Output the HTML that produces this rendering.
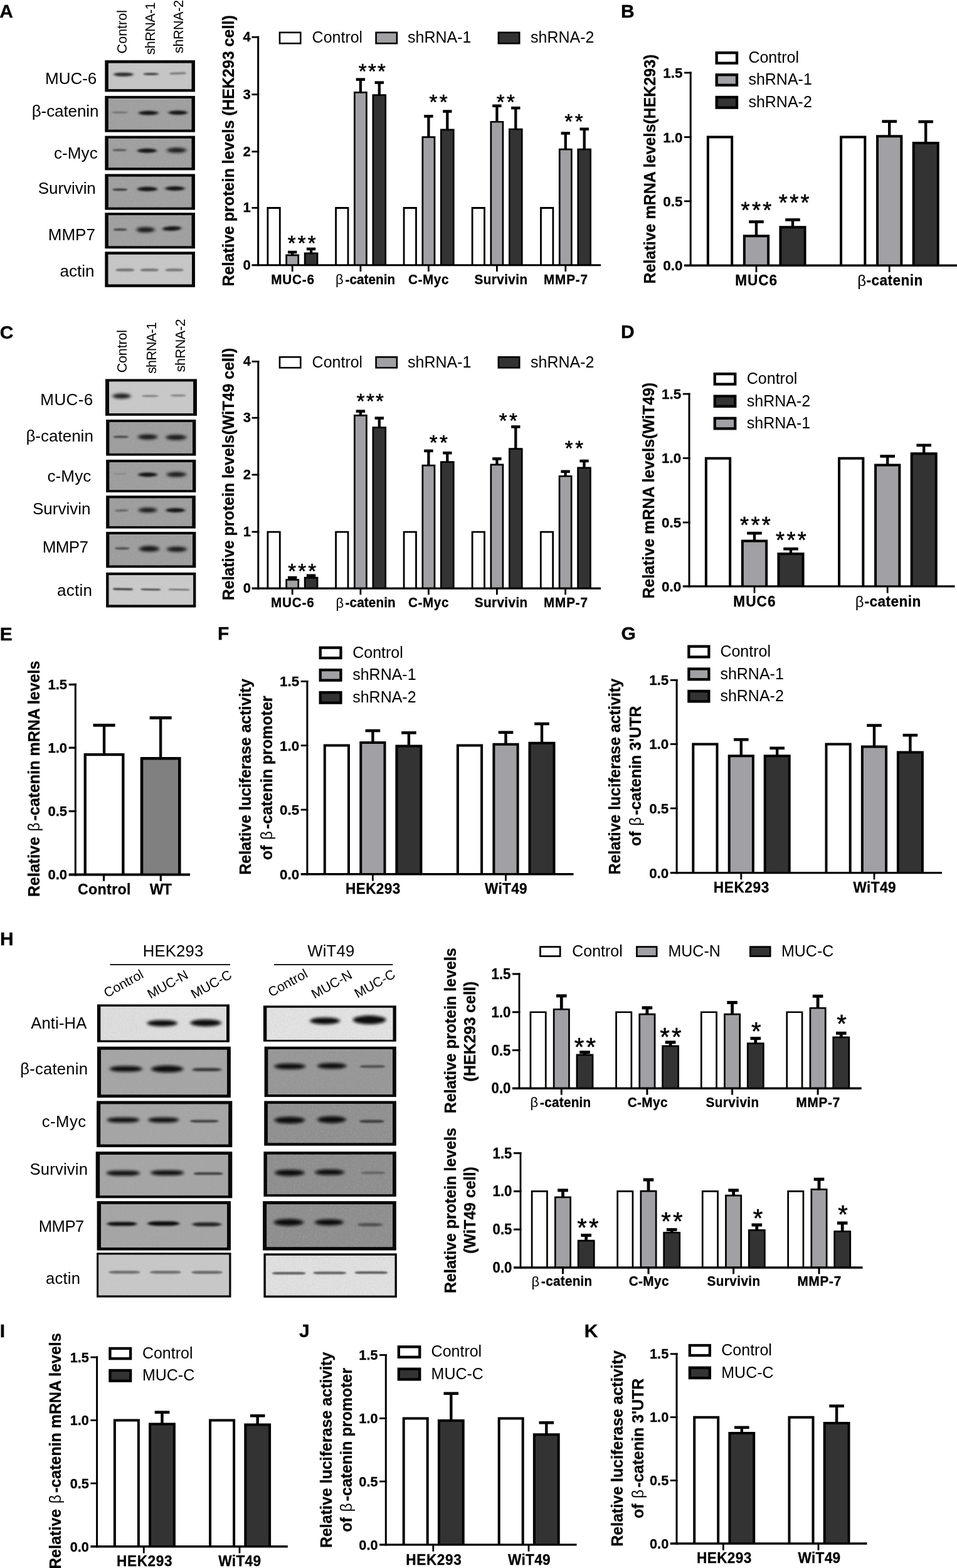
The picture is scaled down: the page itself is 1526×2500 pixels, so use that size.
<!DOCTYPE html>
<html lang="en"><head><meta charset="utf-8"><title>Figure</title>
<style>
html,body{margin:0;padding:0;background:#fff;}
body{width:1526px;height:2500px;overflow:hidden;}
svg{display:block;}
svg text{font-family:"Liberation Sans",Arial,Helvetica,sans-serif;}
</style></head><body>
<svg width="1526" height="2500" viewBox="0 0 1526 2500">
<defs>
<filter id="b1" x="-30%" y="-300%" width="160%" height="700%"><feGaussianBlur stdDeviation="1.3 0.9"/></filter>
<filter id="b2" x="-30%" y="-300%" width="160%" height="700%"><feGaussianBlur stdDeviation="2.2 1.5"/></filter>
<filter id="b3" x="-30%" y="-300%" width="160%" height="700%"><feGaussianBlur stdDeviation="2.9 2.0"/></filter>
<filter id="nz" x="0" y="0" width="100%" height="100%"><feTurbulence type="fractalNoise" baseFrequency="0.35" numOctaves="2" seed="7" result="t"/><feColorMatrix in="t" type="matrix" values="0 0 0 0 0.5  0 0 0 0 0.5  0 0 0 0 0.5  0.9 0.9 0 0 -0.78"/></filter>
</defs>
<rect x="0" y="0" width="1526" height="2500" fill="#ffffff"/>
<text font-size="30" x="-0.75" y="27.9" font-weight="bold" stroke="#000" stroke-width="0.3">A</text>
<text x="202.4" y="85.4" font-size="21.6" transform="rotate(-90 202.4 85.4)" letter-spacing="-0.03">Control</text>
<text x="246.8" y="87.3" font-size="21.6" transform="rotate(-90 246.8 87.3)" letter-spacing="-0.63">shRNA-1</text>
<text x="292.1" y="84.9" font-size="21.6" transform="rotate(-90 292.1 84.9)" letter-spacing="-0.46">shRNA-2</text>
<text font-size="26" x="71.97" y="134.3">MUC-6</text>
<text font-size="26" x="50.7" y="185.8" letter-spacing="-0.08">β-catenin</text>
<text font-size="26" x="86" y="253" letter-spacing="0.09">c-Myc</text>
<text font-size="26" x="60.82" y="309.4" letter-spacing="-0.07">Survivin</text>
<text font-size="26" x="76.77" y="382.9">MMP7</text>
<text font-size="26" x="95.5" y="440.8">actin</text>
<rect x="167.3" y="96.1" width="143.7" height="50.3" fill="#080808"/>
<svg x="172.6" y="100.4" width="133.1" height="41.8" viewBox="172.6 100.4 133.1 41.8">
<rect x="172.6" y="100.4" width="133.1" height="41.8" fill="#c6c6c6"/>
<rect x="172.6" y="100.4" width="133.1" height="41.8" filter="url(#nz)" opacity="0.45"/>
<rect x="181.5" y="115.7" width="30.9" height="6" rx="13.2" ry="3" fill="#222" opacity="0.95" filter="url(#b2)"/>
<rect x="228.1" y="116.1" width="25.3" height="3.8" rx="8.36" ry="1.9" fill="#333" opacity="0.8" filter="url(#b1)"/>
<rect x="270.1" y="115.4" width="26.8" height="3.2" rx="7.04" ry="1.6" fill="#444" opacity="0.65" filter="url(#b1)" transform="rotate(-2 283.5 117)"/>
</svg>
<rect x="167.3" y="152.9" width="143.7" height="57.8" fill="#080808"/>
<svg x="172.6" y="156.9" width="133.1" height="49.9" viewBox="172.6 156.9 133.1 49.9">
<rect x="172.6" y="156.9" width="133.1" height="49.9" fill="#9f9f9f"/>
<rect x="172.6" y="156.9" width="133.1" height="49.9" filter="url(#nz)" opacity="0.45"/>
<rect x="178.6" y="177.9" width="25.3" height="2.8" rx="6.16" ry="1.4" fill="#444" opacity="0.55" filter="url(#b1)"/>
<rect x="221" y="176.7" width="31.5" height="6.8" rx="14.96" ry="3.4" fill="#161616" opacity="1" filter="url(#b2)"/>
<rect x="268.5" y="176.3" width="30.5" height="6.6" rx="14.52" ry="3.3" fill="#161616" opacity="1" filter="url(#b2)"/>
</svg>
<rect x="167.3" y="216.6" width="143.7" height="54.8" fill="#080808"/>
<svg x="172.6" y="220.6" width="133.1" height="46.9" viewBox="172.6 220.6 133.1 46.9">
<rect x="172.6" y="220.6" width="133.1" height="46.9" fill="#9f9f9f"/>
<rect x="172.6" y="220.6" width="133.1" height="46.9" filter="url(#nz)" opacity="0.45"/>
<rect x="179.1" y="237.7" width="23.3" height="3.2" rx="7.04" ry="1.6" fill="#333" opacity="0.7" filter="url(#b1)"/>
<rect x="219" y="236.7" width="31" height="7" rx="15.4" ry="3.5" fill="#161616" opacity="1" filter="url(#b2)"/>
<rect x="265.7" y="235.8" width="31.6" height="7.6" rx="15.8" ry="3.8" fill="#161616" opacity="1" filter="url(#b3)"/>
</svg>
<rect x="167.3" y="277.4" width="143.7" height="57.2" fill="#080808"/>
<svg x="172.6" y="281.4" width="133.1" height="49.3" viewBox="172.6 281.4 133.1 49.3">
<rect x="172.6" y="281.4" width="133.1" height="49.3" fill="#9f9f9f"/>
<rect x="172.6" y="281.4" width="133.1" height="49.3" filter="url(#nz)" opacity="0.45"/>
<rect x="179.3" y="300.45" width="24" height="3.7" rx="8.14" ry="1.85" fill="#2a2a2a" opacity="0.85" filter="url(#b1)"/>
<rect x="219.2" y="297.8" width="31.5" height="7.2" rx="15.75" ry="3.6" fill="#161616" opacity="1" filter="url(#b2)"/>
<rect x="263.5" y="296.9" width="30.9" height="7.2" rx="15.45" ry="3.6" fill="#161616" opacity="1" filter="url(#b2)"/>
</svg>
<rect x="167.3" y="339.1" width="143.7" height="57.2" fill="#080808"/>
<svg x="172.6" y="343.1" width="133.1" height="49.3" viewBox="172.6 343.1 133.1 49.3">
<rect x="172.6" y="343.1" width="133.1" height="49.3" fill="#9f9f9f"/>
<rect x="172.6" y="343.1" width="133.1" height="49.3" filter="url(#nz)" opacity="0.45"/>
<rect x="180.5" y="364.15" width="22.2" height="3.7" rx="8.14" ry="1.85" fill="#2a2a2a" opacity="0.8" filter="url(#b1)"/>
<rect x="217.4" y="362.3" width="29.5" height="8" rx="14.75" ry="4" fill="#161616" opacity="1" filter="url(#b3)"/>
<rect x="259.3" y="360.8" width="29.7" height="7.2" rx="14.85" ry="3.6" fill="#161616" opacity="1" filter="url(#b2)" transform="rotate(-2.5 274.15 364.4)"/>
</svg>
<rect x="167.3" y="401.3" width="143.7" height="56.6" fill="#080808"/>
<svg x="172.3" y="405.6" width="133.7" height="48" viewBox="172.3 405.6 133.7 48">
<rect x="172.3" y="405.6" width="133.7" height="48" fill="#c7c7c7"/>
<rect x="172.3" y="405.6" width="133.7" height="48" filter="url(#nz)" opacity="0.45"/>
<rect x="184.1" y="428.3" width="30.5" height="4.2" rx="9.24" ry="2.1" fill="#666" opacity="0.9" filter="url(#b1)"/>
<rect x="223.4" y="428.3" width="29.9" height="4.2" rx="9.24" ry="2.1" fill="#6a6a6a" opacity="0.9" filter="url(#b1)"/>
<rect x="262.9" y="428.3" width="30.1" height="4.2" rx="9.24" ry="2.1" fill="#6e6e6e" opacity="0.9" filter="url(#b1)"/>
</svg>
<text font-size="25.1" font-weight="bold" stroke="#000" stroke-width="0.3" text-anchor="middle" transform="translate(373.4 240.3) rotate(-90) scale(1 1.04)">Relative protein levels (HEK293 cell)</text>
<path d="M426.9 422.8V331.5H446.3V422.8" fill="#ffffff" stroke="#000" stroke-width="2.8" stroke-linejoin="miter"/>
<line x1="466.2" y1="402.05" x2="466.2" y2="408.2" stroke="#000" stroke-width="4.3"/>
<rect x="459" y="399.8" width="14.4" height="4.5" fill="#000"/>
<path d="M456.65 422.8V406.85H475.75V422.8" fill="#a1a1a5" stroke="#000" stroke-width="2.7" stroke-linejoin="miter"/>
<line x1="496.1" y1="396.95" x2="496.1" y2="405.2" stroke="#000" stroke-width="4.3"/>
<rect x="488.9" y="394.7" width="14.4" height="4.5" fill="#000"/>
<path d="M486.15 422.8V403.85H506.05V422.8" fill="#333333" stroke="#000" stroke-width="2.7" stroke-linejoin="miter"/>
<path d="M535.6 422.8V331.5H555V422.8" fill="#ffffff" stroke="#000" stroke-width="2.8" stroke-linejoin="miter"/>
<line x1="574.9" y1="126.65" x2="574.9" y2="148.7" stroke="#000" stroke-width="4.3"/>
<rect x="567.7" y="124.4" width="14.4" height="4.5" fill="#000"/>
<path d="M565.35 422.8V147.35H584.45V422.8" fill="#a1a1a5" stroke="#000" stroke-width="2.7" stroke-linejoin="miter"/>
<line x1="604.8" y1="131.65" x2="604.8" y2="153" stroke="#000" stroke-width="4.3"/>
<rect x="597.6" y="129.4" width="14.4" height="4.5" fill="#000"/>
<path d="M594.85 422.8V151.65H614.75V422.8" fill="#333333" stroke="#000" stroke-width="2.7" stroke-linejoin="miter"/>
<path d="M644.1 422.8V331.5H663.5V422.8" fill="#ffffff" stroke="#000" stroke-width="2.8" stroke-linejoin="miter"/>
<line x1="683.4" y1="185.35" x2="683.4" y2="219.9" stroke="#000" stroke-width="4.3"/>
<rect x="676.2" y="183.1" width="14.4" height="4.5" fill="#000"/>
<path d="M673.85 422.8V218.55H692.95V422.8" fill="#a1a1a5" stroke="#000" stroke-width="2.7" stroke-linejoin="miter"/>
<line x1="713.3" y1="177.55" x2="713.3" y2="208.2" stroke="#000" stroke-width="4.3"/>
<rect x="706.1" y="175.3" width="14.4" height="4.5" fill="#000"/>
<path d="M703.35 422.8V206.85H723.25V422.8" fill="#333333" stroke="#000" stroke-width="2.7" stroke-linejoin="miter"/>
<path d="M753.1 422.8V331.5H772.5V422.8" fill="#ffffff" stroke="#000" stroke-width="2.8" stroke-linejoin="miter"/>
<line x1="792.4" y1="168.75" x2="792.4" y2="195.6" stroke="#000" stroke-width="4.3"/>
<rect x="785.2" y="166.5" width="14.4" height="4.5" fill="#000"/>
<path d="M782.85 422.8V194.25H801.95V422.8" fill="#a1a1a5" stroke="#000" stroke-width="2.7" stroke-linejoin="miter"/>
<line x1="822.3" y1="172.15" x2="822.3" y2="207.4" stroke="#000" stroke-width="4.3"/>
<rect x="815.1" y="169.9" width="14.4" height="4.5" fill="#000"/>
<path d="M812.35 422.8V206.05H832.25V422.8" fill="#333333" stroke="#000" stroke-width="2.7" stroke-linejoin="miter"/>
<path d="M862.5 422.8V331.5H881.9V422.8" fill="#ffffff" stroke="#000" stroke-width="2.8" stroke-linejoin="miter"/>
<line x1="901.8" y1="212.45" x2="901.8" y2="239.4" stroke="#000" stroke-width="4.3"/>
<rect x="894.6" y="210.2" width="14.4" height="4.5" fill="#000"/>
<path d="M892.25 422.8V238.05H911.35V422.8" fill="#a1a1a5" stroke="#000" stroke-width="2.7" stroke-linejoin="miter"/>
<line x1="931.7" y1="205.75" x2="931.7" y2="239.4" stroke="#000" stroke-width="4.3"/>
<rect x="924.5" y="203.5" width="14.4" height="4.5" fill="#000"/>
<path d="M921.75 422.8V238.05H941.65V422.8" fill="#333333" stroke="#000" stroke-width="2.7" stroke-linejoin="miter"/>
<line x1="411.65" y1="57.8" x2="411.65" y2="424.35" stroke="#000" stroke-width="3"/>
<line x1="401.45" y1="422.8" x2="958.1" y2="422.8" stroke="#000" stroke-width="3.1"/>
<line x1="401.45" y1="59.2" x2="413.15" y2="59.2" stroke="#000" stroke-width="2.8"/>
<text font-size="22" transform="translate(399.75 66.24) scale(1 1.04)" font-weight="bold" stroke="#000" stroke-width="0.3" text-anchor="end">4</text>
<line x1="401.45" y1="150.6" x2="413.15" y2="150.6" stroke="#000" stroke-width="2.8"/>
<text font-size="22" transform="translate(399.75 157.64) scale(1 1.04)" font-weight="bold" stroke="#000" stroke-width="0.3" text-anchor="end">3</text>
<line x1="401.45" y1="241.7" x2="413.15" y2="241.7" stroke="#000" stroke-width="2.8"/>
<text font-size="22" transform="translate(399.75 248.74) scale(1 1.04)" font-weight="bold" stroke="#000" stroke-width="0.3" text-anchor="end">2</text>
<line x1="401.45" y1="331.4" x2="413.15" y2="331.4" stroke="#000" stroke-width="2.8"/>
<text font-size="22" transform="translate(399.75 338.44) scale(1 1.04)" font-weight="bold" stroke="#000" stroke-width="0.3" text-anchor="end">1</text>
<text font-size="22" transform="translate(399.75 429.84) scale(1 1.04)" font-weight="bold" stroke="#000" stroke-width="0.3" text-anchor="end">0</text>
<line x1="466.2" y1="422.8" x2="466.2" y2="432.95" stroke="#000" stroke-width="2.8"/>
<line x1="574.9" y1="422.8" x2="574.9" y2="432.95" stroke="#000" stroke-width="2.8"/>
<line x1="683.4" y1="422.8" x2="683.4" y2="432.95" stroke="#000" stroke-width="2.8"/>
<line x1="792.4" y1="422.8" x2="792.4" y2="432.95" stroke="#000" stroke-width="2.8"/>
<line x1="901.8" y1="422.8" x2="901.8" y2="432.95" stroke="#000" stroke-width="2.8"/>
<text font-size="20.7" transform="translate(432.22 452.6) scale(1 1.04)" font-weight="bold" stroke="#000" stroke-width="0.3" letter-spacing="0.82">MUC-6</text>
<text font-size="22" x="534.88" y="453.2">β</text>
<text font-size="20.7" transform="translate(550.49 452.6) scale(1 1.04)" font-weight="bold" stroke="#000" stroke-width="0.3" letter-spacing="0.05">-catenin</text>
<text font-size="20.7" transform="translate(650.95 452.6) scale(1 1.04)" font-weight="bold" stroke="#000" stroke-width="0.3" letter-spacing="0.59">C-Myc</text>
<text font-size="20.7" transform="translate(756.4 452.6) scale(1 1.04)" font-weight="bold" stroke="#000" stroke-width="0.3" letter-spacing="0.44">Survivin</text>
<text font-size="20.7" transform="translate(867.02 452.6) scale(1 1.04)" font-weight="bold" stroke="#000" stroke-width="0.3" letter-spacing="0.82">MMP-7</text>
<rect x="446" y="51.8" width="33.3" height="17.4" fill="#ffffff" stroke="#000" stroke-width="2.6"/>
<text font-size="25" transform="translate(497.6 68.42) scale(1 1.04)">Control</text>
<rect x="576.6" y="46" width="4" height="28" fill="#fff"/>
<rect x="599.6" y="51.8" width="33.3" height="17.4" fill="#a1a1a5" stroke="#000" stroke-width="2.6"/>
<text font-size="25" transform="translate(650 68.42) scale(1 1.04)">shRNA-1</text>
<rect x="794.9" y="51.8" width="33.3" height="17.4" fill="#333333" stroke="#000" stroke-width="2.6"/>
<text font-size="25" transform="translate(846 68.42) scale(1 1.04)">shRNA-2</text>
<text x="458.77" y="398.9" font-size="33" stroke="#000" stroke-width="0.6" letter-spacing="3.16">***</text>
<text x="571.87" y="124.6" font-size="33" stroke="#000" stroke-width="0.6" letter-spacing="2.26">***</text>
<text x="684.57" y="174" font-size="33" stroke="#000" stroke-width="0.6" letter-spacing="3.45">**</text>
<text x="791.67" y="174.1" font-size="33" stroke="#000" stroke-width="0.6" letter-spacing="3.55">**</text>
<text x="900.27" y="205.1" font-size="33" stroke="#000" stroke-width="0.6" letter-spacing="3.55">**</text>
<text font-size="30" x="990" y="28" font-weight="bold" stroke="#000" stroke-width="0.3">B</text>
<text font-size="25" font-weight="bold" stroke="#000" stroke-width="0.3" text-anchor="middle" transform="translate(1044.6 269.5) rotate(-90) scale(1 1.04)">Relative mRNA levels(HEK293)</text>
<path d="M1128.85 423.3V218.6H1167.15V423.3" fill="#ffffff" stroke="#000" stroke-width="4" stroke-linejoin="miter"/>
<line x1="1206" y1="353.6" x2="1206" y2="378.3" stroke="#000" stroke-width="4.4"/>
<rect x="1194.2" y="351.3" width="23.6" height="4.6" fill="#000"/>
<path d="M1186.85 423.3V376.3H1225.15V423.3" fill="#a1a1a5" stroke="#000" stroke-width="4" stroke-linejoin="miter"/>
<line x1="1264" y1="350.4" x2="1264" y2="364.3" stroke="#000" stroke-width="4.4"/>
<rect x="1252.2" y="348.1" width="23.6" height="4.6" fill="#000"/>
<path d="M1244.45 423.3V362.3H1283.55V423.3" fill="#333333" stroke="#000" stroke-width="4" stroke-linejoin="miter"/>
<path d="M1341.05 423.3V218.6H1379.35V423.3" fill="#ffffff" stroke="#000" stroke-width="4" stroke-linejoin="miter"/>
<line x1="1418.2" y1="193.6" x2="1418.2" y2="219.2" stroke="#000" stroke-width="4.4"/>
<rect x="1406.4" y="191.3" width="23.6" height="4.6" fill="#000"/>
<path d="M1399.05 423.3V217.2H1437.35V423.3" fill="#a1a1a5" stroke="#000" stroke-width="4" stroke-linejoin="miter"/>
<line x1="1476.2" y1="194" x2="1476.2" y2="230.1" stroke="#000" stroke-width="4.4"/>
<rect x="1464.4" y="191.7" width="23.6" height="4.6" fill="#000"/>
<path d="M1456.65 423.3V228.1H1495.75V423.3" fill="#333333" stroke="#000" stroke-width="4" stroke-linejoin="miter"/>
<line x1="1101.2" y1="114.6" x2="1101.2" y2="425" stroke="#000" stroke-width="3"/>
<line x1="1091" y1="423.3" x2="1530" y2="423.3" stroke="#000" stroke-width="3.4"/>
<line x1="1091" y1="116" x2="1102.7" y2="116" stroke="#000" stroke-width="2.8"/>
<text font-size="22.4" transform="translate(1088.4 123.93) scale(1 1.02)" font-weight="bold" stroke="#000" stroke-width="0.3" text-anchor="end">1.5</text>
<line x1="1091" y1="218.6" x2="1102.7" y2="218.6" stroke="#000" stroke-width="2.8"/>
<text font-size="22.4" transform="translate(1088.4 226.53) scale(1 1.02)" font-weight="bold" stroke="#000" stroke-width="0.3" text-anchor="end">1.0</text>
<line x1="1091" y1="320.8" x2="1102.7" y2="320.8" stroke="#000" stroke-width="2.8"/>
<text font-size="22.4" transform="translate(1088.4 328.73) scale(1 1.02)" font-weight="bold" stroke="#000" stroke-width="0.3" text-anchor="end">0.5</text>
<text font-size="22.4" transform="translate(1088.4 431.23) scale(1 1.02)" font-weight="bold" stroke="#000" stroke-width="0.3" text-anchor="end">0.0</text>
<line x1="1206" y1="423.3" x2="1206" y2="434" stroke="#000" stroke-width="2.8"/>
<line x1="1418.2" y1="423.3" x2="1418.2" y2="434" stroke="#000" stroke-width="2.8"/>
<text font-size="22.6" transform="translate(1172.29 455) scale(1 1.04)" font-weight="bold" stroke="#000" stroke-width="0.3" letter-spacing="0.93">MUC6</text>
<text font-size="24" x="1367.14" y="455.6">β</text>
<text font-size="22.6" transform="translate(1381.62 455) scale(1 1.04)" font-weight="bold" stroke="#000" stroke-width="0.3" letter-spacing="0.45">-catenin</text>
<rect x="1142.65" y="84.15" width="32.4" height="16.5" fill="#ffffff" stroke="#000" stroke-width="4.3"/>
<text font-size="25" transform="translate(1193.4 100.33) scale(1 1.04)">Control</text>
<rect x="1142.65" y="119.25" width="32.4" height="16.5" fill="#a1a1a5" stroke="#000" stroke-width="4.3"/>
<text font-size="25" transform="translate(1193.4 135.43) scale(1 1.04)">shRNA-1</text>
<rect x="1142.65" y="154.95" width="32.4" height="16.7" fill="#333333" stroke="#000" stroke-width="4.3"/>
<text font-size="25" transform="translate(1193.4 171.23) scale(1 1.04)">shRNA-2</text>
<text x="1181.52" y="348.17" font-size="36" stroke="#000" stroke-width="0.6" letter-spacing="3.4">***</text>
<text x="1241.82" y="336.17" font-size="36" stroke="#000" stroke-width="0.6" letter-spacing="3.35">***</text>
<text font-size="30" x="-0.2" y="539.8" font-weight="bold" stroke="#000" stroke-width="0.3">C</text>
<text x="202.4" y="594.3" font-size="21.6" transform="rotate(-90 202.4 594.3)" letter-spacing="-0.21">Control</text>
<text x="249.3" y="595.8" font-size="21.6" transform="rotate(-90 249.3 595.8)" letter-spacing="-0.88">shRNA-1</text>
<text x="294.6" y="593.3" font-size="21.6" transform="rotate(-90 294.6 593.3)" letter-spacing="-0.46">shRNA-2</text>
<text font-size="26" x="64.37" y="646.2" letter-spacing="0.36">MUC-6</text>
<text font-size="26" x="41.4" y="703.6">β-catenin</text>
<text font-size="26" x="75.4" y="767.6" letter-spacing="0.14">c-Myc</text>
<text font-size="26" x="52.02" y="819.8">Survivin</text>
<text font-size="26" x="67.67" y="881.3" letter-spacing="-0.63">MMP7</text>
<text font-size="26" x="91" y="949.7" letter-spacing="0.27">actin</text>
<rect x="168" y="604.3" width="146" height="58.6" fill="#080808"/>
<svg x="174" y="608.2" width="134.3" height="50.8" viewBox="174 608.2 134.3 50.8">
<rect x="174" y="608.2" width="134.3" height="50.8" fill="#c9c9c9"/>
<rect x="174" y="608.2" width="134.3" height="50.8" filter="url(#nz)" opacity="0.45"/>
<rect x="179.3" y="627.5" width="29.3" height="8" rx="14.65" ry="4" fill="#1c1c1c" opacity="1" filter="url(#b3)"/>
<rect x="226" y="629.7" width="26.9" height="3.2" rx="7.04" ry="1.6" fill="#555" opacity="0.6" filter="url(#b1)"/>
<rect x="271.5" y="629" width="25.1" height="3.2" rx="7.04" ry="1.6" fill="#555" opacity="0.6" filter="url(#b1)"/>
</svg>
<rect x="169.1" y="669" width="143.3" height="57.6" fill="#080808"/>
<svg x="174.2" y="673" width="132.8" height="49.9" viewBox="174.2 673 132.8 49.9">
<rect x="174.2" y="673" width="132.8" height="49.9" fill="#9d9d9d"/>
<rect x="174.2" y="673" width="132.8" height="49.9" filter="url(#nz)" opacity="0.45"/>
<rect x="180.5" y="694.65" width="24.5" height="3.7" rx="8.14" ry="1.85" fill="#333" opacity="0.8" filter="url(#b1)"/>
<rect x="220" y="692.7" width="31.1" height="8" rx="15.55" ry="4" fill="#161616" opacity="1" filter="url(#b3)"/>
<rect x="264.3" y="693.3" width="32.9" height="8" rx="16.45" ry="4" fill="#161616" opacity="1" filter="url(#b3)"/>
</svg>
<rect x="169.1" y="732.9" width="143.3" height="52.1" fill="#080808"/>
<svg x="174.2" y="736.9" width="132.8" height="44.4" viewBox="174.2 736.9 132.8 44.4">
<rect x="174.2" y="736.9" width="132.8" height="44.4" fill="#9d9d9d"/>
<rect x="174.2" y="736.9" width="132.8" height="44.4" filter="url(#nz)" opacity="0.45"/>
<rect x="180.6" y="754.5" width="21.8" height="2.2" rx="4.84" ry="1.1" fill="#666" opacity="0.4" filter="url(#b1)"/>
<rect x="220.4" y="753.2" width="30.3" height="7.2" rx="15.15" ry="3.6" fill="#161616" opacity="1" filter="url(#b2)"/>
<rect x="265.5" y="752.85" width="31.7" height="7.5" rx="15.85" ry="3.75" fill="#161616" opacity="1" filter="url(#b3)"/>
</svg>
<rect x="169.1" y="790.2" width="142.8" height="52.4" fill="#080808"/>
<svg x="174.2" y="794.2" width="132.3" height="44.7" viewBox="174.2 794.2 132.3 44.7">
<rect x="174.2" y="794.2" width="132.3" height="44.7" fill="#9d9d9d"/>
<rect x="174.2" y="794.2" width="132.3" height="44.7" filter="url(#nz)" opacity="0.45"/>
<rect x="182.9" y="812.3" width="22.1" height="3.2" rx="7.04" ry="1.6" fill="#444" opacity="0.7" filter="url(#b1)" transform="rotate(-2 193.95 813.9)"/>
<rect x="220.6" y="809.55" width="29.9" height="7.5" rx="14.95" ry="3.75" fill="#161616" opacity="1" filter="url(#b3)"/>
<rect x="264.5" y="809.9" width="30.5" height="7.2" rx="15.25" ry="3.6" fill="#161616" opacity="1" filter="url(#b2)"/>
</svg>
<rect x="169.1" y="847.9" width="143.3" height="57.4" fill="#080808"/>
<svg x="174.2" y="851.9" width="132.8" height="49.7" viewBox="174.2 851.9 132.8 49.7">
<rect x="174.2" y="851.9" width="132.8" height="49.7" fill="#9d9d9d"/>
<rect x="174.2" y="851.9" width="132.8" height="49.7" filter="url(#nz)" opacity="0.45"/>
<rect x="182.9" y="872.45" width="23.9" height="3.7" rx="8.14" ry="1.85" fill="#333" opacity="0.75" filter="url(#b1)"/>
<rect x="221.8" y="870.6" width="32.3" height="9" rx="16.15" ry="4.5" fill="#161616" opacity="1" filter="url(#b3)"/>
<rect x="266.1" y="871.7" width="31.7" height="8" rx="15.85" ry="4" fill="#161616" opacity="1" filter="url(#b3)"/>
</svg>
<rect x="169.1" y="912.8" width="143.3" height="55.7" fill="#080808"/>
<svg x="173.3" y="917" width="134.9" height="47.5" viewBox="173.3 917 134.9 47.5">
<rect x="173.3" y="917" width="134.9" height="47.5" fill="#cbcbcb"/>
<rect x="173.3" y="917" width="134.9" height="47.5" filter="url(#nz)" opacity="0.45"/>
<rect x="179.9" y="938" width="32.3" height="2.4" rx="5.28" ry="1.2" fill="#1a1a1a" opacity="1" filter="url(#b1)" transform="rotate(1 196.05 939.2)"/>
<rect x="224.2" y="938.7" width="32.3" height="2.2" rx="4.84" ry="1.1" fill="#222" opacity="0.95" filter="url(#b1)" transform="rotate(1 240.35 939.8)"/>
<rect x="268.5" y="939.2" width="34.1" height="1.8" rx="3.96" ry="0.9" fill="#333" opacity="0.85" filter="url(#b1)" transform="rotate(1 285.55 940.1)"/>
</svg>
<text font-size="25" font-weight="bold" stroke="#000" stroke-width="0.3" text-anchor="middle" transform="translate(373.4 756) rotate(-90) scale(1 1.04)">Relative protein levels(WiT49 cell)</text>
<path d="M426.9 938.1V848.1H446.3V938.1" fill="#ffffff" stroke="#000" stroke-width="2.8" stroke-linejoin="miter"/>
<line x1="466.2" y1="920.95" x2="466.2" y2="925.7" stroke="#000" stroke-width="4.3"/>
<rect x="459" y="918.7" width="14.4" height="4.5" fill="#000"/>
<path d="M456.65 938.1V924.35H475.75V938.1" fill="#a1a1a5" stroke="#000" stroke-width="2.7" stroke-linejoin="miter"/>
<line x1="496.1" y1="917.65" x2="496.1" y2="922.4" stroke="#000" stroke-width="4.3"/>
<rect x="488.9" y="915.4" width="14.4" height="4.5" fill="#000"/>
<path d="M486.15 938.1V921.05H506.05V938.1" fill="#333333" stroke="#000" stroke-width="2.7" stroke-linejoin="miter"/>
<path d="M535.6 938.1V848.1H555V938.1" fill="#ffffff" stroke="#000" stroke-width="2.8" stroke-linejoin="miter"/>
<line x1="574.9" y1="655.65" x2="574.9" y2="663.7" stroke="#000" stroke-width="4.3"/>
<rect x="567.7" y="653.4" width="14.4" height="4.5" fill="#000"/>
<path d="M565.35 938.1V662.35H584.45V938.1" fill="#a1a1a5" stroke="#000" stroke-width="2.7" stroke-linejoin="miter"/>
<line x1="604.8" y1="666.65" x2="604.8" y2="683" stroke="#000" stroke-width="4.3"/>
<rect x="597.6" y="664.4" width="14.4" height="4.5" fill="#000"/>
<path d="M594.85 938.1V681.65H614.75V938.1" fill="#333333" stroke="#000" stroke-width="2.7" stroke-linejoin="miter"/>
<path d="M644.1 938.1V848.1H663.5V938.1" fill="#ffffff" stroke="#000" stroke-width="2.8" stroke-linejoin="miter"/>
<line x1="683.4" y1="718.85" x2="683.4" y2="743.5" stroke="#000" stroke-width="4.3"/>
<rect x="676.2" y="716.6" width="14.4" height="4.5" fill="#000"/>
<path d="M673.85 938.1V742.15H692.95V938.1" fill="#a1a1a5" stroke="#000" stroke-width="2.7" stroke-linejoin="miter"/>
<line x1="713.3" y1="722.15" x2="713.3" y2="737.9" stroke="#000" stroke-width="4.3"/>
<rect x="706.1" y="719.9" width="14.4" height="4.5" fill="#000"/>
<path d="M703.35 938.1V736.55H723.25V938.1" fill="#333333" stroke="#000" stroke-width="2.7" stroke-linejoin="miter"/>
<path d="M753.1 938.1V848.1H772.5V938.1" fill="#ffffff" stroke="#000" stroke-width="2.8" stroke-linejoin="miter"/>
<line x1="792.4" y1="731.45" x2="792.4" y2="742.2" stroke="#000" stroke-width="4.3"/>
<rect x="785.2" y="729.2" width="14.4" height="4.5" fill="#000"/>
<path d="M782.85 938.1V740.85H801.95V938.1" fill="#a1a1a5" stroke="#000" stroke-width="2.7" stroke-linejoin="miter"/>
<line x1="822.3" y1="680.45" x2="822.3" y2="716.9" stroke="#000" stroke-width="4.3"/>
<rect x="815.1" y="678.2" width="14.4" height="4.5" fill="#000"/>
<path d="M812.35 938.1V715.55H832.25V938.1" fill="#333333" stroke="#000" stroke-width="2.7" stroke-linejoin="miter"/>
<path d="M862.3 938.1V848.1H881.7V938.1" fill="#ffffff" stroke="#000" stroke-width="2.8" stroke-linejoin="miter"/>
<line x1="901.6" y1="751.75" x2="901.6" y2="760.6" stroke="#000" stroke-width="4.3"/>
<rect x="894.4" y="749.5" width="14.4" height="4.5" fill="#000"/>
<path d="M892.05 938.1V759.25H911.15V938.1" fill="#a1a1a5" stroke="#000" stroke-width="2.7" stroke-linejoin="miter"/>
<line x1="931.5" y1="734.95" x2="931.5" y2="747.3" stroke="#000" stroke-width="4.3"/>
<rect x="924.3" y="732.7" width="14.4" height="4.5" fill="#000"/>
<path d="M921.55 938.1V745.95H941.45V938.1" fill="#333333" stroke="#000" stroke-width="2.7" stroke-linejoin="miter"/>
<line x1="411.8" y1="575" x2="411.8" y2="939.65" stroke="#000" stroke-width="3"/>
<line x1="401.6" y1="938.1" x2="958.1" y2="938.1" stroke="#000" stroke-width="3.1"/>
<line x1="401.6" y1="576.4" x2="413.3" y2="576.4" stroke="#000" stroke-width="2.8"/>
<text font-size="22" transform="translate(399.9 583.44) scale(1 1.04)" font-weight="bold" stroke="#000" stroke-width="0.3" text-anchor="end">4</text>
<line x1="401.6" y1="666.2" x2="413.3" y2="666.2" stroke="#000" stroke-width="2.8"/>
<text font-size="22" transform="translate(399.9 673.24) scale(1 1.04)" font-weight="bold" stroke="#000" stroke-width="0.3" text-anchor="end">3</text>
<line x1="401.6" y1="756.9" x2="413.3" y2="756.9" stroke="#000" stroke-width="2.8"/>
<text font-size="22" transform="translate(399.9 763.94) scale(1 1.04)" font-weight="bold" stroke="#000" stroke-width="0.3" text-anchor="end">2</text>
<line x1="401.6" y1="848" x2="413.3" y2="848" stroke="#000" stroke-width="2.8"/>
<text font-size="22" transform="translate(399.9 855.04) scale(1 1.04)" font-weight="bold" stroke="#000" stroke-width="0.3" text-anchor="end">1</text>
<text font-size="22" transform="translate(399.9 945.14) scale(1 1.04)" font-weight="bold" stroke="#000" stroke-width="0.3" text-anchor="end">0</text>
<line x1="466.2" y1="938.1" x2="466.2" y2="948.25" stroke="#000" stroke-width="2.8"/>
<line x1="574.9" y1="938.1" x2="574.9" y2="948.25" stroke="#000" stroke-width="2.8"/>
<line x1="683.4" y1="938.1" x2="683.4" y2="948.25" stroke="#000" stroke-width="2.8"/>
<line x1="792.4" y1="938.1" x2="792.4" y2="948.25" stroke="#000" stroke-width="2.8"/>
<line x1="901.6" y1="938.1" x2="901.6" y2="948.25" stroke="#000" stroke-width="2.8"/>
<text font-size="20.7" transform="translate(432.02 968.1) scale(1 1.04)" font-weight="bold" stroke="#000" stroke-width="0.3" letter-spacing="0.82">MUC-6</text>
<text font-size="22" x="535.38" y="968.7">β</text>
<text font-size="20.7" transform="translate(550.49 968.1) scale(1 1.04)" font-weight="bold" stroke="#000" stroke-width="0.3" letter-spacing="0.13">-catenin</text>
<text font-size="20.7" transform="translate(650.95 968.1) scale(1 1.04)" font-weight="bold" stroke="#000" stroke-width="0.3" letter-spacing="0.59">C-Myc</text>
<text font-size="20.7" transform="translate(756.8 968.1) scale(1 1.04)" font-weight="bold" stroke="#000" stroke-width="0.3" letter-spacing="0.39">Survivin</text>
<text font-size="20.7" transform="translate(867.02 968.1) scale(1 1.04)" font-weight="bold" stroke="#000" stroke-width="0.3" letter-spacing="0.82">MMP-7</text>
<rect x="446" y="569.3" width="33.3" height="17" fill="#ffffff" stroke="#000" stroke-width="2.6"/>
<text font-size="25" transform="translate(497.6 585.72) scale(1 1.04)">Control</text>
<rect x="576.6" y="564" width="4" height="28" fill="#fff"/>
<rect x="599.6" y="569.3" width="33.3" height="17" fill="#a1a1a5" stroke="#000" stroke-width="2.6"/>
<text font-size="25" transform="translate(650 585.72) scale(1 1.04)">shRNA-1</text>
<rect x="794.9" y="569.3" width="33.3" height="17" fill="#333333" stroke="#000" stroke-width="2.6"/>
<text font-size="25" transform="translate(846 585.72) scale(1 1.04)">shRNA-2</text>
<text x="459.27" y="921.6" font-size="33" stroke="#000" stroke-width="0.6" letter-spacing="3.16">***</text>
<text x="568.87" y="650.7" font-size="33" stroke="#000" stroke-width="0.6" letter-spacing="2.26">***</text>
<text x="684.77" y="717.1" font-size="33" stroke="#000" stroke-width="0.6" letter-spacing="3.45">**</text>
<text x="795.67" y="681.6" font-size="33" stroke="#000" stroke-width="0.6" letter-spacing="3.55">**</text>
<text x="900.87" y="726.3" font-size="33" stroke="#000" stroke-width="0.6" letter-spacing="3.55">**</text>
<text font-size="30" x="990" y="539.3" font-weight="bold" stroke="#000" stroke-width="0.3">D</text>
<text font-size="25" font-weight="bold" stroke="#000" stroke-width="0.3" text-anchor="middle" transform="translate(1042.8 782.2) rotate(-90) scale(1 1.04)">Relative mRNA levels(WiT49)</text>
<path d="M1125.85 934.9V730.7H1164.15V934.9" fill="#ffffff" stroke="#000" stroke-width="4" stroke-linejoin="miter"/>
<line x1="1203" y1="850.1" x2="1203" y2="864.4" stroke="#000" stroke-width="4.4"/>
<rect x="1191.2" y="847.8" width="23.6" height="4.6" fill="#000"/>
<path d="M1183.85 934.9V862.4H1222.15V934.9" fill="#a1a1a5" stroke="#000" stroke-width="4" stroke-linejoin="miter"/>
<line x1="1261" y1="875.1" x2="1261" y2="885.1" stroke="#000" stroke-width="4.4"/>
<rect x="1249.2" y="872.8" width="23.6" height="4.6" fill="#000"/>
<path d="M1241.45 934.9V883.1H1280.55V934.9" fill="#333333" stroke="#000" stroke-width="4" stroke-linejoin="miter"/>
<path d="M1338.05 934.9V730.7H1376.35V934.9" fill="#ffffff" stroke="#000" stroke-width="4" stroke-linejoin="miter"/>
<line x1="1415.2" y1="727.4" x2="1415.2" y2="743.5" stroke="#000" stroke-width="4.4"/>
<rect x="1403.4" y="725.1" width="23.6" height="4.6" fill="#000"/>
<path d="M1396.05 934.9V741.5H1434.35V934.9" fill="#a1a1a5" stroke="#000" stroke-width="4" stroke-linejoin="miter"/>
<line x1="1473.2" y1="709.9" x2="1473.2" y2="725.3" stroke="#000" stroke-width="4.4"/>
<rect x="1461.4" y="707.6" width="23.6" height="4.6" fill="#000"/>
<path d="M1453.65 934.9V723.3H1492.75V934.9" fill="#333333" stroke="#000" stroke-width="4" stroke-linejoin="miter"/>
<line x1="1099" y1="626.7" x2="1099" y2="936.6" stroke="#000" stroke-width="3"/>
<line x1="1088.8" y1="934.9" x2="1522.5" y2="934.9" stroke="#000" stroke-width="3.4"/>
<line x1="1088.8" y1="628.1" x2="1100.5" y2="628.1" stroke="#000" stroke-width="2.8"/>
<text font-size="22.4" transform="translate(1086.2 636.03) scale(1 1.02)" font-weight="bold" stroke="#000" stroke-width="0.3" text-anchor="end">1.5</text>
<line x1="1088.8" y1="730.5" x2="1100.5" y2="730.5" stroke="#000" stroke-width="2.8"/>
<text font-size="22.4" transform="translate(1086.2 738.43) scale(1 1.02)" font-weight="bold" stroke="#000" stroke-width="0.3" text-anchor="end">1.0</text>
<line x1="1088.8" y1="833" x2="1100.5" y2="833" stroke="#000" stroke-width="2.8"/>
<text font-size="22.4" transform="translate(1086.2 840.93) scale(1 1.02)" font-weight="bold" stroke="#000" stroke-width="0.3" text-anchor="end">0.5</text>
<text font-size="22.4" transform="translate(1086.2 942.83) scale(1 1.02)" font-weight="bold" stroke="#000" stroke-width="0.3" text-anchor="end">0.0</text>
<line x1="1203" y1="934.9" x2="1203" y2="945.6" stroke="#000" stroke-width="2.8"/>
<line x1="1415.2" y1="934.9" x2="1415.2" y2="945.6" stroke="#000" stroke-width="2.8"/>
<text font-size="22.6" transform="translate(1169.29 967) scale(1 1.04)" font-weight="bold" stroke="#000" stroke-width="0.3" letter-spacing="1.1">MUC6</text>
<text font-size="24" x="1363.84" y="967.6">β</text>
<text font-size="22.6" transform="translate(1378.62 967) scale(1 1.04)" font-weight="bold" stroke="#000" stroke-width="0.3" letter-spacing="0.45">-catenin</text>
<rect x="1139.75" y="596.15" width="32.5" height="16.4" fill="#ffffff" stroke="#000" stroke-width="4.3"/>
<text font-size="25" transform="translate(1190.8 612.27) scale(1 1.04)">Control</text>
<rect x="1139.75" y="631.65" width="32.5" height="16.2" fill="#333333" stroke="#000" stroke-width="4.3"/>
<text font-size="25" transform="translate(1190.8 647.67) scale(1 1.04)">shRNA-2</text>
<rect x="1139.75" y="666.85" width="32.5" height="16.5" fill="#a1a1a5" stroke="#000" stroke-width="4.3"/>
<text font-size="25" transform="translate(1190.8 683.02) scale(1 1.04)">shRNA-1</text>
<text x="1180.02" y="849.77" font-size="36" stroke="#000" stroke-width="0.6" letter-spacing="3.4">***</text>
<text x="1237.02" y="874.47" font-size="36" stroke="#000" stroke-width="0.6" letter-spacing="3.4">***</text>
<text font-size="30" x="-0.3" y="1020.9" font-weight="bold" stroke="#000" stroke-width="0.3">E</text>
<text font-size="25" font-weight="bold" stroke="#000" stroke-width="0.3" text-anchor="middle" transform="translate(63 1241.8) rotate(-90) scale(1 1.04)">Relative <tspan dx="1.6" font-weight="normal" stroke="none" font-size="24.5">β</tspan><tspan dx="3.2">-catenin mRNA levels</tspan></text>
<line x1="166.05" y1="1156.3" x2="166.05" y2="1205.3" stroke="#000" stroke-width="4.3"/>
<rect x="148.55" y="1153.9" width="35" height="4.8" fill="#000"/>
<path d="M135.75 1394.5V1203.15H196.35V1394.5" fill="#ffffff" stroke="#000" stroke-width="4.3" stroke-linejoin="miter"/>
<line x1="256.15" y1="1144.5" x2="256.15" y2="1211.6" stroke="#000" stroke-width="4.3"/>
<rect x="238.65" y="1142.1" width="35" height="4.8" fill="#000"/>
<path d="M226 1394.5V1209.3H286.3V1394.5" fill="#808080" stroke="#000" stroke-width="4.6" stroke-linejoin="miter"/>
<line x1="120.3" y1="1089.8" x2="120.3" y2="1396.6" stroke="#000" stroke-width="3"/>
<line x1="109.7" y1="1394.5" x2="303" y2="1394.5" stroke="#000" stroke-width="4.2"/>
<line x1="109.7" y1="1091.4" x2="121.8" y2="1091.4" stroke="#000" stroke-width="3.2"/>
<text font-size="22.1" transform="translate(107.1 1099.38) scale(1 1.04)" font-weight="bold" stroke="#000" stroke-width="0.3" text-anchor="end">1.5</text>
<line x1="109.7" y1="1192.2" x2="121.8" y2="1192.2" stroke="#000" stroke-width="3.2"/>
<text font-size="22.1" transform="translate(107.1 1200.18) scale(1 1.04)" font-weight="bold" stroke="#000" stroke-width="0.3" text-anchor="end">1.0</text>
<line x1="109.7" y1="1293.4" x2="121.8" y2="1293.4" stroke="#000" stroke-width="3.2"/>
<text font-size="22.1" transform="translate(107.1 1301.38) scale(1 1.04)" font-weight="bold" stroke="#000" stroke-width="0.3" text-anchor="end">0.5</text>
<text font-size="22.1" transform="translate(107.1 1402.48) scale(1 1.04)" font-weight="bold" stroke="#000" stroke-width="0.3" text-anchor="end">0.0</text>
<line x1="165.5" y1="1394.5" x2="165.5" y2="1404.8" stroke="#000" stroke-width="3.2"/>
<line x1="256.3" y1="1394.5" x2="256.3" y2="1404.8" stroke="#000" stroke-width="3.2"/>
<text font-size="23.2" transform="translate(124.05 1425.5) scale(1 1.04)" font-weight="bold" stroke="#000" stroke-width="0.3" letter-spacing="0.32">Control</text>
<text font-size="23.2" transform="translate(238.78 1425.5) scale(1 1.04)" font-weight="bold" stroke="#000" stroke-width="0.3" letter-spacing="-0.8">WT</text>
<text font-size="30" x="347" y="1020" font-weight="bold" stroke="#000" stroke-width="0.3">F</text>
<text font-size="25" font-weight="bold" stroke="#000" stroke-width="0.3" text-anchor="middle" transform="translate(400.4 1238.5) rotate(-90) scale(1 1.04)">Relative luciferase activity</text>
<text font-size="25" font-weight="bold" stroke="#000" stroke-width="0.3" text-anchor="middle" transform="translate(433.7 1240.2) rotate(-90) scale(1 1.04)">of <tspan dx="1.6" font-weight="normal" stroke="none" font-size="24.5">β</tspan><tspan dx="3.2">-catenin promoter</tspan></text>
<path d="M517.8 1393.8V1188.6H556V1393.8" fill="#ffffff" stroke="#000" stroke-width="4" stroke-linejoin="miter"/>
<line x1="594.4" y1="1165" x2="594.4" y2="1186" stroke="#000" stroke-width="4.4"/>
<rect x="582.6" y="1162.7" width="23.6" height="4.6" fill="#000"/>
<path d="M575.3 1393.8V1184H613.5V1393.8" fill="#a1a1a5" stroke="#000" stroke-width="4" stroke-linejoin="miter"/>
<line x1="651.9" y1="1168.3" x2="651.9" y2="1191.6" stroke="#000" stroke-width="4.4"/>
<rect x="640.1" y="1166" width="23.6" height="4.6" fill="#000"/>
<path d="M632.4 1393.8V1189.6H671.4V1393.8" fill="#333333" stroke="#000" stroke-width="4" stroke-linejoin="miter"/>
<path d="M729.9 1393.8V1188.6H768.1V1393.8" fill="#ffffff" stroke="#000" stroke-width="4" stroke-linejoin="miter"/>
<line x1="806.5" y1="1167.7" x2="806.5" y2="1188.7" stroke="#000" stroke-width="4.4"/>
<rect x="794.7" y="1165.4" width="23.6" height="4.6" fill="#000"/>
<path d="M787.4 1393.8V1186.7H825.6V1393.8" fill="#a1a1a5" stroke="#000" stroke-width="4" stroke-linejoin="miter"/>
<line x1="864" y1="1154" x2="864" y2="1186.7" stroke="#000" stroke-width="4.4"/>
<rect x="852.2" y="1151.7" width="23.6" height="4.6" fill="#000"/>
<path d="M844.5 1393.8V1184.7H883.5V1393.8" fill="#333333" stroke="#000" stroke-width="4" stroke-linejoin="miter"/>
<line x1="489.9" y1="1085" x2="489.9" y2="1395.5" stroke="#000" stroke-width="3"/>
<line x1="479.7" y1="1393.8" x2="914.5" y2="1393.8" stroke="#000" stroke-width="3.4"/>
<line x1="479.7" y1="1086.4" x2="491.4" y2="1086.4" stroke="#000" stroke-width="2.8"/>
<text font-size="22.4" transform="translate(477.1 1094.33) scale(1 1.02)" font-weight="bold" stroke="#000" stroke-width="0.3" text-anchor="end">1.5</text>
<line x1="479.7" y1="1188.6" x2="491.4" y2="1188.6" stroke="#000" stroke-width="2.8"/>
<text font-size="22.4" transform="translate(477.1 1196.53) scale(1 1.02)" font-weight="bold" stroke="#000" stroke-width="0.3" text-anchor="end">1.0</text>
<line x1="479.7" y1="1291" x2="491.4" y2="1291" stroke="#000" stroke-width="2.8"/>
<text font-size="22.4" transform="translate(477.1 1298.93) scale(1 1.02)" font-weight="bold" stroke="#000" stroke-width="0.3" text-anchor="end">0.5</text>
<text font-size="22.4" transform="translate(477.1 1401.73) scale(1 1.02)" font-weight="bold" stroke="#000" stroke-width="0.3" text-anchor="end">0.0</text>
<line x1="594.4" y1="1393.8" x2="594.4" y2="1404.5" stroke="#000" stroke-width="2.8"/>
<line x1="806.5" y1="1393.8" x2="806.5" y2="1404.5" stroke="#000" stroke-width="2.8"/>
<text font-size="22.6" transform="translate(550.99 1425) scale(1 1.04)" font-weight="bold" stroke="#000" stroke-width="0.3" letter-spacing="0.38">HEK293</text>
<text font-size="22.6" transform="translate(772.98 1425) scale(1 1.04)" font-weight="bold" stroke="#000" stroke-width="0.3" letter-spacing="0.33">WiT49</text>
<rect x="510.75" y="1032.65" width="32.7" height="16.4" fill="#ffffff" stroke="#000" stroke-width="4.3"/>
<text font-size="25" transform="translate(562.2 1048.77) scale(1 1.04)">Control</text>
<rect x="510.75" y="1068.15" width="32.7" height="16.5" fill="#a1a1a5" stroke="#000" stroke-width="4.3"/>
<text font-size="25" transform="translate(562.2 1084.33) scale(1 1.04)">shRNA-1</text>
<rect x="510.75" y="1104.05" width="32.7" height="16.5" fill="#333333" stroke="#000" stroke-width="4.3"/>
<text font-size="25" transform="translate(562.2 1120.23) scale(1 1.04)">shRNA-2</text>
<text font-size="30" x="990.6" y="1020.2" font-weight="bold" stroke="#000" stroke-width="0.3">G</text>
<text font-size="25" font-weight="bold" stroke="#000" stroke-width="0.3" text-anchor="middle" transform="translate(988.5 1238.1) rotate(-90) scale(1 1.04)">Relative luciferase activity</text>
<text font-size="25" font-weight="bold" stroke="#000" stroke-width="0.3" text-anchor="middle" transform="translate(1022.4 1237.2) rotate(-90) scale(1 1.04)">of <tspan dx="1.6" font-weight="normal" stroke="none" font-size="24.5">β</tspan><tspan dx="3.2">-catenin 3'UTR</tspan></text>
<path d="M1105.3 1391.6V1186.4H1143.5V1391.6" fill="#ffffff" stroke="#000" stroke-width="4" stroke-linejoin="miter"/>
<line x1="1181.8" y1="1179.2" x2="1181.8" y2="1207.2" stroke="#000" stroke-width="4.4"/>
<rect x="1170" y="1176.9" width="23.6" height="4.6" fill="#000"/>
<path d="M1162.7 1391.6V1205.2H1200.9V1391.6" fill="#a1a1a5" stroke="#000" stroke-width="4" stroke-linejoin="miter"/>
<line x1="1239.2" y1="1192.8" x2="1239.2" y2="1207.2" stroke="#000" stroke-width="4.4"/>
<rect x="1227.4" y="1190.5" width="23.6" height="4.6" fill="#000"/>
<path d="M1219.7 1391.6V1205.2H1258.7V1391.6" fill="#333333" stroke="#000" stroke-width="4" stroke-linejoin="miter"/>
<path d="M1317.5 1391.6V1186.4H1355.7V1391.6" fill="#ffffff" stroke="#000" stroke-width="4" stroke-linejoin="miter"/>
<line x1="1394" y1="1156.6" x2="1394" y2="1192.4" stroke="#000" stroke-width="4.4"/>
<rect x="1382.2" y="1154.3" width="23.6" height="4.6" fill="#000"/>
<path d="M1374.9 1391.6V1190.4H1413.1V1391.6" fill="#a1a1a5" stroke="#000" stroke-width="4" stroke-linejoin="miter"/>
<line x1="1451.4" y1="1172.2" x2="1451.4" y2="1201.4" stroke="#000" stroke-width="4.4"/>
<rect x="1439.6" y="1169.9" width="23.6" height="4.6" fill="#000"/>
<path d="M1431.9 1391.6V1199.4H1470.9V1391.6" fill="#333333" stroke="#000" stroke-width="4" stroke-linejoin="miter"/>
<line x1="1079.1" y1="1083" x2="1079.1" y2="1393.3" stroke="#000" stroke-width="3"/>
<line x1="1068.9" y1="1391.6" x2="1502" y2="1391.6" stroke="#000" stroke-width="3.4"/>
<line x1="1068.9" y1="1084.4" x2="1080.6" y2="1084.4" stroke="#000" stroke-width="2.8"/>
<text font-size="22.4" transform="translate(1066.3 1092.33) scale(1 1.02)" font-weight="bold" stroke="#000" stroke-width="0.3" text-anchor="end">1.5</text>
<line x1="1068.9" y1="1186.4" x2="1080.6" y2="1186.4" stroke="#000" stroke-width="2.8"/>
<text font-size="22.4" transform="translate(1066.3 1194.33) scale(1 1.02)" font-weight="bold" stroke="#000" stroke-width="0.3" text-anchor="end">1.0</text>
<line x1="1068.9" y1="1288.8" x2="1080.6" y2="1288.8" stroke="#000" stroke-width="2.8"/>
<text font-size="22.4" transform="translate(1066.3 1296.73) scale(1 1.02)" font-weight="bold" stroke="#000" stroke-width="0.3" text-anchor="end">0.5</text>
<text font-size="22.4" transform="translate(1066.3 1399.53) scale(1 1.02)" font-weight="bold" stroke="#000" stroke-width="0.3" text-anchor="end">0.0</text>
<line x1="1181.8" y1="1391.6" x2="1181.8" y2="1402.3" stroke="#000" stroke-width="2.8"/>
<line x1="1394" y1="1391.6" x2="1394" y2="1402.3" stroke="#000" stroke-width="2.8"/>
<text font-size="22.6" transform="translate(1137.79 1423) scale(1 1.04)" font-weight="bold" stroke="#000" stroke-width="0.3" letter-spacing="0.62">HEK293</text>
<text font-size="22.6" transform="translate(1360.48 1423) scale(1 1.04)" font-weight="bold" stroke="#000" stroke-width="0.3" letter-spacing="0.45">WiT49</text>
<rect x="1098.35" y="1030.65" width="32" height="16.8" fill="#ffffff" stroke="#000" stroke-width="4.3"/>
<text font-size="25" transform="translate(1148.4 1046.97) scale(1 1.04)">Control</text>
<rect x="1098.35" y="1066.45" width="32" height="16.8" fill="#a1a1a5" stroke="#000" stroke-width="4.3"/>
<text font-size="25" transform="translate(1148.4 1082.77) scale(1 1.04)">shRNA-1</text>
<rect x="1098.35" y="1101.95" width="32" height="16.4" fill="#333333" stroke="#000" stroke-width="4.3"/>
<text font-size="25" transform="translate(1148.4 1118.08) scale(1 1.04)">shRNA-2</text>
<text font-size="30" x="0" y="1506.7" font-weight="bold" stroke="#000" stroke-width="0.3">H</text>
<text font-size="25.7" x="227.79" y="1524.8" letter-spacing="0.16">HEK293</text>
<text font-size="25.7" x="490.19" y="1524.8" letter-spacing="0.24">WiT49</text>
<line x1="175.5" y1="1537.9" x2="367" y2="1537.9" stroke="#1a1a1a" stroke-width="2"/>
<line x1="437" y1="1537.9" x2="626.4" y2="1537.9" stroke="#1a1a1a" stroke-width="2"/>
<text font-size="21.2" transform="translate(170.6 1591) rotate(-29)">Control</text>
<text font-size="21.2" transform="translate(240 1592.8) rotate(-29)">MUC-N</text>
<text font-size="21.2" transform="translate(309.5 1592.8) rotate(-29)">MUC-C</text>
<text font-size="21.2" transform="translate(432.4 1590) rotate(-29)">Control</text>
<text font-size="21.2" transform="translate(501.5 1592.8) rotate(-29)">MUC-N</text>
<text font-size="21.2" transform="translate(570.2 1591.8) rotate(-29)">MUC-C</text>
<text font-size="25.6" x="49.15" y="1639.7" letter-spacing="0.17">Anti-HA</text>
<text font-size="25.6" x="32.23" y="1713.4" letter-spacing="0.24">β-catenin</text>
<text font-size="25.6" x="66.71" y="1797.1" letter-spacing="0.53">c-Myc</text>
<text font-size="25.6" x="47.54" y="1872.9" letter-spacing="0.2">Survivin</text>
<text font-size="25.6" x="61.7" y="1964.1" letter-spacing="-0.46">MMP7</text>
<text font-size="25.6" x="72.91" y="2047.1" letter-spacing="0.24">actin</text>
<rect x="154.9" y="1601.4" width="211.1" height="60.3" fill="#080808"/>
<svg x="160.2" y="1604.6" width="201" height="54.1" viewBox="160.2 1604.6 201 54.1">
<rect x="160.2" y="1604.6" width="201" height="54.1" fill="#dedede"/>
<rect x="160.2" y="1604.6" width="201" height="54.1" filter="url(#nz)" opacity="0.45"/>
<rect x="234.8" y="1626.4" width="47.8" height="10" rx="22" ry="5" fill="#101010" opacity="1" filter="url(#b3)"/>
<rect x="303.4" y="1625.4" width="49.4" height="11" rx="24.2" ry="5.5" fill="#0a0a0a" opacity="1" filter="url(#b3)"/>
</svg>
<rect x="154.9" y="1668.7" width="213" height="81.4" fill="#080808"/>
<svg x="160.9" y="1673.5" width="201.1" height="72" viewBox="160.9 1673.5 201.1 72">
<rect x="160.9" y="1673.5" width="201.1" height="72" fill="#a4a4a4"/>
<rect x="160.9" y="1673.5" width="201.1" height="72" filter="url(#nz)" opacity="0.45"/>
<rect x="174.9" y="1699.8" width="51.9" height="9" rx="19.8" ry="4.5" fill="#101010" opacity="1" filter="url(#b3)"/>
<rect x="241.1" y="1698.8" width="51.1" height="11" rx="24.2" ry="5.5" fill="#101010" opacity="1" filter="url(#b3)"/>
<rect x="306.4" y="1702.8" width="46.6" height="5.2" rx="11.44" ry="2.6" fill="#222" opacity="0.85" filter="url(#b2)"/>
</svg>
<rect x="154.1" y="1755.4" width="216.2" height="73.7" fill="#080808"/>
<svg x="160.1" y="1760.2" width="204.3" height="64.5" viewBox="160.1 1760.2 204.3 64.5">
<rect x="160.1" y="1760.2" width="204.3" height="64.5" fill="#a4a4a4"/>
<rect x="160.1" y="1760.2" width="204.3" height="64.5" filter="url(#nz)" opacity="0.45"/>
<rect x="170.9" y="1781.7" width="51.1" height="8" rx="17.6" ry="4" fill="#101010" opacity="1" filter="url(#b3)"/>
<rect x="236.4" y="1781.7" width="48.6" height="8" rx="17.6" ry="4" fill="#101010" opacity="1" filter="url(#b3)"/>
<rect x="302.8" y="1785.5" width="45.8" height="4.2" rx="9.24" ry="2.1" fill="#2a2a2a" opacity="0.8" filter="url(#b1)"/>
</svg>
<rect x="152.7" y="1836.1" width="217.6" height="74.2" fill="#080808"/>
<svg x="159.1" y="1840.9" width="204.8" height="65.4" viewBox="159.1 1840.9 204.8 65.4">
<rect x="159.1" y="1840.9" width="204.8" height="65.4" fill="#a4a4a4"/>
<rect x="159.1" y="1840.9" width="204.8" height="65.4" filter="url(#nz)" opacity="0.45"/>
<rect x="170.1" y="1866.4" width="52.7" height="8" rx="17.6" ry="4" fill="#101010" opacity="1" filter="url(#b3)"/>
<rect x="240.4" y="1865.9" width="52.6" height="8" rx="17.6" ry="4" fill="#101010" opacity="1" filter="url(#b3)"/>
<rect x="308.4" y="1869.1" width="47.5" height="4.2" rx="9.24" ry="2.1" fill="#2a2a2a" opacity="0.8" filter="url(#b1)"/>
</svg>
<rect x="154.6" y="1915.1" width="213.4" height="78.5" fill="#080808"/>
<svg x="161" y="1919.7" width="201.1" height="69.4" viewBox="161 1919.7 201.1 69.4">
<rect x="161" y="1919.7" width="201.1" height="69.4" fill="#a4a4a4"/>
<rect x="161" y="1919.7" width="201.1" height="69.4" filter="url(#nz)" opacity="0.45"/>
<rect x="170.7" y="1948.2" width="47.5" height="6.2" rx="13.64" ry="3.1" fill="#101010" opacity="1" filter="url(#b2)"/>
<rect x="235.4" y="1947.2" width="50.6" height="7.2" rx="15.84" ry="3.6" fill="#101010" opacity="1" filter="url(#b2)"/>
<rect x="306.4" y="1949" width="46.6" height="6.2" rx="13.64" ry="3.1" fill="#1c1c1c" opacity="0.95" filter="url(#b2)"/>
</svg>
<rect x="154.1" y="1997.3" width="214.4" height="71.3" fill="#080808"/>
<svg x="157.1" y="2000.3" width="208.4" height="65.3" viewBox="157.1 2000.3 208.4 65.3">
<rect x="157.1" y="2000.3" width="208.4" height="65.3" fill="#c8c8c8"/>
<rect x="157.1" y="2000.3" width="208.4" height="65.3" filter="url(#nz)" opacity="0.45"/>
<rect x="173.5" y="2026.05" width="49.9" height="4.7" rx="10.34" ry="2.35" fill="#666" opacity="0.9" filter="url(#b1)"/>
<rect x="239" y="2026.05" width="49.8" height="4.7" rx="10.34" ry="2.35" fill="#666" opacity="0.9" filter="url(#b1)"/>
<rect x="305.2" y="2026.25" width="49.9" height="4.7" rx="10.34" ry="2.35" fill="#606060" opacity="0.9" filter="url(#b1)"/>
</svg>
<rect x="419.9" y="1603.3" width="211.9" height="57.4" fill="#080808"/>
<svg x="425.2" y="1606.5" width="201.5" height="51.4" viewBox="425.2 1606.5 201.5 51.4">
<rect x="425.2" y="1606.5" width="201.5" height="51.4" fill="#e3e3e3"/>
<rect x="425.2" y="1606.5" width="201.5" height="51.4" filter="url(#nz)" opacity="0.45"/>
<rect x="494.2" y="1622.2" width="47.8" height="11" rx="23.9" ry="5.5" fill="#101010" opacity="1" filter="url(#b3)"/>
<rect x="562.8" y="1619.1" width="52.6" height="14" rx="26.3" ry="7" fill="#0a0a0a" opacity="1" filter="url(#b3)"/>
</svg>
<rect x="421.6" y="1668.7" width="210.2" height="80.3" fill="#080808"/>
<svg x="427.2" y="1672.9" width="199" height="72.1" viewBox="427.2 1672.9 199 72.1">
<rect x="427.2" y="1672.9" width="199" height="72.1" fill="#969696"/>
<rect x="427.2" y="1672.9" width="199" height="72.1" filter="url(#nz)" opacity="0.45"/>
<rect x="437.5" y="1695.8" width="49.5" height="9" rx="19.8" ry="4.5" fill="#101010" opacity="1" filter="url(#b3)"/>
<rect x="506.1" y="1695" width="46.3" height="9" rx="19.8" ry="4.5" fill="#101010" opacity="1" filter="url(#b3)"/>
<rect x="573.4" y="1698.2" width="41" height="4.2" rx="9.24" ry="2.1" fill="#333" opacity="0.7" filter="url(#b1)"/>
</svg>
<rect x="421.2" y="1755.4" width="210.6" height="71.3" fill="#080808"/>
<svg x="426.8" y="1759.7" width="199.4" height="62.7" viewBox="426.8 1759.7 199.4 62.7">
<rect x="426.8" y="1759.7" width="199.4" height="62.7" fill="#8f8f8f"/>
<rect x="426.8" y="1759.7" width="199.4" height="62.7" filter="url(#nz)" opacity="0.45"/>
<rect x="437.5" y="1780.5" width="48.7" height="11" rx="24.2" ry="5.5" fill="#0a0a0a" opacity="1" filter="url(#b3)"/>
<rect x="506.1" y="1779.7" width="45.5" height="11" rx="22.75" ry="5.5" fill="#0a0a0a" opacity="1" filter="url(#b3)"/>
<rect x="572.6" y="1785.45" width="40.2" height="4.7" rx="10.34" ry="2.35" fill="#2a2a2a" opacity="0.8" filter="url(#b1)"/>
</svg>
<rect x="420.4" y="1836.1" width="211.4" height="71.8" fill="#080808"/>
<svg x="425.7" y="1840.4" width="200.5" height="63.8" viewBox="425.7 1840.4 200.5 63.8">
<rect x="425.7" y="1840.4" width="200.5" height="63.8" fill="#8d8d8d"/>
<rect x="425.7" y="1840.4" width="200.5" height="63.8" filter="url(#nz)" opacity="0.45"/>
<rect x="438.3" y="1864.9" width="47.1" height="10" rx="22" ry="5" fill="#0c0c0c" opacity="1" filter="url(#b3)"/>
<rect x="502.2" y="1864.6" width="47" height="9" rx="19.8" ry="4.5" fill="#101010" opacity="1" filter="url(#b3)"/>
<rect x="575.8" y="1867.8" width="38.6" height="4.2" rx="9.24" ry="2.1" fill="#444" opacity="0.55" filter="url(#b1)"/>
</svg>
<rect x="419.1" y="1915.1" width="212.7" height="78.5" fill="#080808"/>
<svg x="425.1" y="1920.1" width="201.1" height="68.3" viewBox="425.1 1920.1 201.1 68.3">
<rect x="425.1" y="1920.1" width="201.1" height="68.3" fill="#8d8d8d"/>
<rect x="425.1" y="1920.1" width="201.1" height="68.3" filter="url(#nz)" opacity="0.45"/>
<rect x="436.7" y="1943.4" width="47.1" height="11" rx="23.55" ry="5.5" fill="#0a0a0a" opacity="1" filter="url(#b3)"/>
<rect x="502.2" y="1943.9" width="45.4" height="10" rx="22" ry="5" fill="#101010" opacity="1" filter="url(#b3)"/>
<rect x="569.8" y="1950" width="40.3" height="5.2" rx="11.44" ry="2.6" fill="#333" opacity="0.7" filter="url(#b2)"/>
</svg>
<rect x="420.4" y="1998.4" width="212.5" height="70.5" fill="#080808"/>
<svg x="423.6" y="2001.6" width="206.1" height="64.1" viewBox="423.6 2001.6 206.1 64.1">
<rect x="423.6" y="2001.6" width="206.1" height="64.1" fill="#e1e1e1"/>
<rect x="423.6" y="2001.6" width="206.1" height="64.1" filter="url(#nz)" opacity="0.45"/>
<rect x="433.7" y="2027.9" width="53.9" height="4.2" rx="9.24" ry="2.1" fill="#555" opacity="0.95" filter="url(#b1)"/>
<rect x="499.2" y="2027.4" width="53" height="4.2" rx="9.24" ry="2.1" fill="#555" opacity="0.95" filter="url(#b1)"/>
<rect x="565.4" y="2026.9" width="53.1" height="4.2" rx="9.24" ry="2.1" fill="#555" opacity="0.95" filter="url(#b1)"/>
</svg>
<text font-size="25" font-weight="bold" stroke="#000" stroke-width="0.3" text-anchor="middle" transform="translate(727.4 1643.2) rotate(-90) scale(1 1.04)">Relative protein levels</text>
<text font-size="25" font-weight="bold" stroke="#000" stroke-width="0.3" text-anchor="middle" transform="translate(758.1 1644.5) rotate(-90) scale(1 1.04)">(HEK293 cell)</text>
<path d="M845.95 1735.3V1613.75H870.25V1735.3" fill="#ffffff" stroke="#000" stroke-width="2.7" stroke-linejoin="miter"/>
<line x1="895.3" y1="1587.8" x2="895.3" y2="1610.6" stroke="#000" stroke-width="4.8"/>
<rect x="887" y="1585.3" width="16.6" height="5" fill="#000"/>
<path d="M883.15 1735.3V1609.25H907.45V1735.3" fill="#a1a1a5" stroke="#000" stroke-width="2.7" stroke-linejoin="miter"/>
<line x1="932.5" y1="1677.7" x2="932.5" y2="1683.2" stroke="#000" stroke-width="4.8"/>
<rect x="924.2" y="1675.2" width="16.6" height="5" fill="#000"/>
<path d="M919.95 1735.3V1681.85H945.05V1735.3" fill="#333333" stroke="#000" stroke-width="2.7" stroke-linejoin="miter"/>
<path d="M982.55 1735.3V1613.75H1006.85V1735.3" fill="#ffffff" stroke="#000" stroke-width="2.7" stroke-linejoin="miter"/>
<line x1="1031.9" y1="1606.8" x2="1031.9" y2="1618.4" stroke="#000" stroke-width="4.8"/>
<rect x="1023.6" y="1604.3" width="16.6" height="5" fill="#000"/>
<path d="M1019.75 1735.3V1617.05H1044.05V1735.3" fill="#a1a1a5" stroke="#000" stroke-width="2.7" stroke-linejoin="miter"/>
<line x1="1069.1" y1="1661.8" x2="1069.1" y2="1669.2" stroke="#000" stroke-width="4.8"/>
<rect x="1060.8" y="1659.3" width="16.6" height="5" fill="#000"/>
<path d="M1056.55 1735.3V1667.85H1081.65V1735.3" fill="#333333" stroke="#000" stroke-width="2.7" stroke-linejoin="miter"/>
<path d="M1118.25 1735.3V1613.75H1142.55V1735.3" fill="#ffffff" stroke="#000" stroke-width="2.7" stroke-linejoin="miter"/>
<line x1="1167.6" y1="1598.4" x2="1167.6" y2="1618.4" stroke="#000" stroke-width="4.8"/>
<rect x="1159.3" y="1595.9" width="16.6" height="5" fill="#000"/>
<path d="M1155.45 1735.3V1617.05H1179.75V1735.3" fill="#a1a1a5" stroke="#000" stroke-width="2.7" stroke-linejoin="miter"/>
<line x1="1204.8" y1="1655.6" x2="1204.8" y2="1665" stroke="#000" stroke-width="4.8"/>
<rect x="1196.5" y="1653.1" width="16.6" height="5" fill="#000"/>
<path d="M1192.25 1735.3V1663.65H1217.35V1735.3" fill="#333333" stroke="#000" stroke-width="2.7" stroke-linejoin="miter"/>
<path d="M1254.75 1735.3V1613.75H1279.05V1735.3" fill="#ffffff" stroke="#000" stroke-width="2.7" stroke-linejoin="miter"/>
<line x1="1304.1" y1="1588.3" x2="1304.1" y2="1608.6" stroke="#000" stroke-width="4.8"/>
<rect x="1295.8" y="1585.8" width="16.6" height="5" fill="#000"/>
<path d="M1291.95 1735.3V1607.25H1316.25V1735.3" fill="#a1a1a5" stroke="#000" stroke-width="2.7" stroke-linejoin="miter"/>
<line x1="1341.3" y1="1647.3" x2="1341.3" y2="1655.3" stroke="#000" stroke-width="4.8"/>
<rect x="1333" y="1644.8" width="16.6" height="5" fill="#000"/>
<path d="M1328.75 1735.3V1653.95H1353.85V1735.3" fill="#333333" stroke="#000" stroke-width="2.7" stroke-linejoin="miter"/>
<line x1="828" y1="1551.4" x2="828" y2="1737" stroke="#000" stroke-width="2.8"/>
<line x1="817" y1="1735.3" x2="1373.7" y2="1735.3" stroke="#000" stroke-width="3.4"/>
<line x1="817" y1="1552.9" x2="829.4" y2="1552.9" stroke="#000" stroke-width="3"/>
<text font-size="22.2" transform="translate(814.4 1560.91) scale(1 1.04)" font-weight="bold" stroke="#000" stroke-width="0.3" text-anchor="end">1.5</text>
<line x1="817" y1="1613.7" x2="829.4" y2="1613.7" stroke="#000" stroke-width="3"/>
<text font-size="22.2" transform="translate(814.4 1621.71) scale(1 1.04)" font-weight="bold" stroke="#000" stroke-width="0.3" text-anchor="end">1.0</text>
<line x1="817" y1="1674.5" x2="829.4" y2="1674.5" stroke="#000" stroke-width="3"/>
<text font-size="22.2" transform="translate(814.4 1682.51) scale(1 1.04)" font-weight="bold" stroke="#000" stroke-width="0.3" text-anchor="end">0.5</text>
<text font-size="22.2" transform="translate(814.4 1743.31) scale(1 1.04)" font-weight="bold" stroke="#000" stroke-width="0.3" text-anchor="end">0.0</text>
<line x1="895.3" y1="1735.3" x2="895.3" y2="1745.6" stroke="#000" stroke-width="3"/>
<line x1="1031.9" y1="1735.3" x2="1031.9" y2="1745.6" stroke="#000" stroke-width="3"/>
<line x1="1167.6" y1="1735.3" x2="1167.6" y2="1745.6" stroke="#000" stroke-width="3"/>
<line x1="1304.1" y1="1735.3" x2="1304.1" y2="1745.6" stroke="#000" stroke-width="3"/>
<text font-size="22" x="845.48" y="1765.1">β</text>
<text font-size="20.7" transform="translate(861.09 1764.5) scale(1 1.04)" font-weight="bold" stroke="#000" stroke-width="0.3" letter-spacing="0.26">-catenin</text>
<text font-size="20.7" transform="translate(1000.65 1764.5) scale(1 1.04)" font-weight="bold" stroke="#000" stroke-width="0.3" letter-spacing="0.44">C-Myc</text>
<text font-size="20.7" transform="translate(1125.5 1764.5) scale(1 1.04)" font-weight="bold" stroke="#000" stroke-width="0.3" letter-spacing="0.43">Survivin</text>
<text font-size="20.7" transform="translate(1269.52 1764.5) scale(1 1.04)" font-weight="bold" stroke="#000" stroke-width="0.3" letter-spacing="0.75">MMP-7</text>
<rect x="861.45" y="1509.65" width="31.7" height="14.9" fill="#ffffff" stroke="#000" stroke-width="2.7"/>
<text font-size="25" transform="translate(912.2 1525.02) scale(1 1.04)">Control</text>
<rect x="1015.35" y="1509.65" width="31.8" height="14.9" fill="#a1a1a5" stroke="#000" stroke-width="2.7"/>
<text font-size="25" transform="translate(1065.5 1525.02) scale(1 1.04)">MUC-N</text>
<rect x="1196.35" y="1509.65" width="31.8" height="14.9" fill="#333333" stroke="#000" stroke-width="2.7"/>
<text font-size="25" transform="translate(1246 1525.02) scale(1 1.04)">MUC-C</text>
<text x="915.66" y="1683.02" font-size="40" stroke="#000" stroke-width="0.6" letter-spacing="3.32">**</text>
<text x="1052.16" y="1667.22" font-size="40" stroke="#000" stroke-width="0.6" letter-spacing="3.32">**</text>
<text x="1198" y="1658.02" font-size="40" stroke="#000" stroke-width="0.6">*</text>
<text x="1334.2" y="1646.32" font-size="40" stroke="#000" stroke-width="0.6">*</text>
<text font-size="25" font-weight="bold" stroke="#000" stroke-width="0.3" text-anchor="middle" transform="translate(727.4 1930) rotate(-90) scale(1 1.04)">Relative protein levels</text>
<text font-size="25" font-weight="bold" stroke="#000" stroke-width="0.3" text-anchor="middle" transform="translate(758.1 1929.4) rotate(-90) scale(1 1.04)">(WiT49 cell)</text>
<path d="M848.15 2021V1899.45H872.45V2021" fill="#ffffff" stroke="#000" stroke-width="2.7" stroke-linejoin="miter"/>
<line x1="897.5" y1="1897.8" x2="897.5" y2="1910.2" stroke="#000" stroke-width="4.8"/>
<rect x="889.2" y="1895.3" width="16.6" height="5" fill="#000"/>
<path d="M885.35 2021V1908.85H909.65V2021" fill="#a1a1a5" stroke="#000" stroke-width="2.7" stroke-linejoin="miter"/>
<line x1="934.7" y1="1969.5" x2="934.7" y2="1979.5" stroke="#000" stroke-width="4.8"/>
<rect x="926.4" y="1967" width="16.6" height="5" fill="#000"/>
<path d="M922.15 2021V1978.15H947.25V2021" fill="#333333" stroke="#000" stroke-width="2.7" stroke-linejoin="miter"/>
<path d="M984.65 2021V1899.45H1008.95V2021" fill="#ffffff" stroke="#000" stroke-width="2.7" stroke-linejoin="miter"/>
<line x1="1034" y1="1881" x2="1034" y2="1900.4" stroke="#000" stroke-width="4.8"/>
<rect x="1025.7" y="1878.5" width="16.6" height="5" fill="#000"/>
<path d="M1021.85 2021V1899.05H1046.15V2021" fill="#a1a1a5" stroke="#000" stroke-width="2.7" stroke-linejoin="miter"/>
<line x1="1071.2" y1="1960.6" x2="1071.2" y2="1966.6" stroke="#000" stroke-width="4.8"/>
<rect x="1062.9" y="1958.1" width="16.6" height="5" fill="#000"/>
<path d="M1058.65 2021V1965.25H1083.75V2021" fill="#333333" stroke="#000" stroke-width="2.7" stroke-linejoin="miter"/>
<path d="M1120.25 2021V1899.45H1144.55V2021" fill="#ffffff" stroke="#000" stroke-width="2.7" stroke-linejoin="miter"/>
<line x1="1169.6" y1="1897.8" x2="1169.6" y2="1907.4" stroke="#000" stroke-width="4.8"/>
<rect x="1161.3" y="1895.3" width="16.6" height="5" fill="#000"/>
<path d="M1157.45 2021V1906.05H1181.75V2021" fill="#a1a1a5" stroke="#000" stroke-width="2.7" stroke-linejoin="miter"/>
<line x1="1206.8" y1="1953" x2="1206.8" y2="1962.7" stroke="#000" stroke-width="4.8"/>
<rect x="1198.5" y="1950.5" width="16.6" height="5" fill="#000"/>
<path d="M1194.25 2021V1961.35H1219.35V2021" fill="#333333" stroke="#000" stroke-width="2.7" stroke-linejoin="miter"/>
<path d="M1256.65 2021V1899.45H1280.95V2021" fill="#ffffff" stroke="#000" stroke-width="2.7" stroke-linejoin="miter"/>
<line x1="1306" y1="1880.2" x2="1306" y2="1897.7" stroke="#000" stroke-width="4.8"/>
<rect x="1297.7" y="1877.7" width="16.6" height="5" fill="#000"/>
<path d="M1293.85 2021V1896.35H1318.15V2021" fill="#a1a1a5" stroke="#000" stroke-width="2.7" stroke-linejoin="miter"/>
<line x1="1343.2" y1="1950" x2="1343.2" y2="1964.7" stroke="#000" stroke-width="4.8"/>
<rect x="1334.9" y="1947.5" width="16.6" height="5" fill="#000"/>
<path d="M1330.65 2021V1963.35H1355.75V2021" fill="#333333" stroke="#000" stroke-width="2.7" stroke-linejoin="miter"/>
<line x1="830" y1="1837.1" x2="830" y2="2022.7" stroke="#000" stroke-width="2.8"/>
<line x1="819" y1="2021" x2="1375.6" y2="2021" stroke="#000" stroke-width="3.4"/>
<line x1="819" y1="1838.6" x2="831.4" y2="1838.6" stroke="#000" stroke-width="3"/>
<text font-size="22.2" transform="translate(816.4 1846.61) scale(1 1.04)" font-weight="bold" stroke="#000" stroke-width="0.3" text-anchor="end">1.5</text>
<line x1="819" y1="1899.4" x2="831.4" y2="1899.4" stroke="#000" stroke-width="3"/>
<text font-size="22.2" transform="translate(816.4 1907.41) scale(1 1.04)" font-weight="bold" stroke="#000" stroke-width="0.3" text-anchor="end">1.0</text>
<line x1="819" y1="1960.2" x2="831.4" y2="1960.2" stroke="#000" stroke-width="3"/>
<text font-size="22.2" transform="translate(816.4 1968.21) scale(1 1.04)" font-weight="bold" stroke="#000" stroke-width="0.3" text-anchor="end">0.5</text>
<text font-size="22.2" transform="translate(816.4 2029.01) scale(1 1.04)" font-weight="bold" stroke="#000" stroke-width="0.3" text-anchor="end">0.0</text>
<line x1="897.5" y1="2021" x2="897.5" y2="2031.3" stroke="#000" stroke-width="3"/>
<line x1="1034" y1="2021" x2="1034" y2="2031.3" stroke="#000" stroke-width="3"/>
<line x1="1169.6" y1="2021" x2="1169.6" y2="2031.3" stroke="#000" stroke-width="3"/>
<line x1="1306" y1="2021" x2="1306" y2="2031.3" stroke="#000" stroke-width="3"/>
<text font-size="22" x="847.48" y="2050.8">β</text>
<text font-size="20.7" transform="translate(863.09 2050.2) scale(1 1.04)" font-weight="bold" stroke="#000" stroke-width="0.3" letter-spacing="0.26">-catenin</text>
<text font-size="20.7" transform="translate(1002.65 2050.2) scale(1 1.04)" font-weight="bold" stroke="#000" stroke-width="0.3" letter-spacing="0.44">C-Myc</text>
<text font-size="20.7" transform="translate(1127.5 2050.2) scale(1 1.04)" font-weight="bold" stroke="#000" stroke-width="0.3" letter-spacing="0.43">Survivin</text>
<text font-size="20.7" transform="translate(1271.52 2050.2) scale(1 1.04)" font-weight="bold" stroke="#000" stroke-width="0.3" letter-spacing="0.75">MMP-7</text>
<text x="920.16" y="1971.12" font-size="40" stroke="#000" stroke-width="0.6" letter-spacing="3.32">**</text>
<text x="1054.16" y="1960.52" font-size="40" stroke="#000" stroke-width="0.6" letter-spacing="3.32">**</text>
<text x="1200.7" y="1955.72" font-size="40" stroke="#000" stroke-width="0.6">*</text>
<text x="1336.2" y="1949.82" font-size="40" stroke="#000" stroke-width="0.6">*</text>
<text font-size="30" x="-0.3" y="2131.5" font-weight="bold" stroke="#000" stroke-width="0.3">I</text>
<text font-size="25" font-weight="bold" stroke="#000" stroke-width="0.3" text-anchor="middle" transform="translate(97.2 2313.5) rotate(-90) scale(1 1.04)">Relative <tspan dx="1.6" font-weight="normal" stroke="none" font-size="24.5">β</tspan><tspan dx="3.2">-catenin mRNA levels</tspan></text>
<path d="M182.9 2465.8V2264.6H220.9V2465.8" fill="#ffffff" stroke="#000" stroke-width="4" stroke-linejoin="miter"/>
<line x1="258.5" y1="2251.7" x2="258.5" y2="2272.6" stroke="#000" stroke-width="4.4"/>
<rect x="246.7" y="2249.4" width="23.6" height="4.6" fill="#000"/>
<path d="M239.1 2465.8V2270.6H277.9V2465.8" fill="#333333" stroke="#000" stroke-width="4" stroke-linejoin="miter"/>
<path d="M335.1 2465.8V2264.6H373.1V2465.8" fill="#ffffff" stroke="#000" stroke-width="4" stroke-linejoin="miter"/>
<line x1="410.7" y1="2257.3" x2="410.7" y2="2273.6" stroke="#000" stroke-width="4.4"/>
<rect x="398.9" y="2255" width="23.6" height="4.6" fill="#000"/>
<path d="M391.3 2465.8V2271.6H430.1V2465.8" fill="#333333" stroke="#000" stroke-width="4" stroke-linejoin="miter"/>
<line x1="154.6" y1="2162.6" x2="154.6" y2="2467.5" stroke="#000" stroke-width="3"/>
<line x1="144.4" y1="2465.8" x2="458.8" y2="2465.8" stroke="#000" stroke-width="3.4"/>
<line x1="144.4" y1="2164" x2="156.1" y2="2164" stroke="#000" stroke-width="2.8"/>
<text font-size="21.7" transform="translate(141.8 2171.76) scale(1 1.03)" font-weight="bold" stroke="#000" stroke-width="0.3" text-anchor="end">1.5</text>
<line x1="144.4" y1="2264.5" x2="156.1" y2="2264.5" stroke="#000" stroke-width="2.8"/>
<text font-size="21.7" transform="translate(141.8 2272.26) scale(1 1.03)" font-weight="bold" stroke="#000" stroke-width="0.3" text-anchor="end">1.0</text>
<line x1="144.4" y1="2365" x2="156.1" y2="2365" stroke="#000" stroke-width="2.8"/>
<text font-size="21.7" transform="translate(141.8 2372.76) scale(1 1.03)" font-weight="bold" stroke="#000" stroke-width="0.3" text-anchor="end">0.5</text>
<text font-size="21.7" transform="translate(141.8 2473.56) scale(1 1.03)" font-weight="bold" stroke="#000" stroke-width="0.3" text-anchor="end">0.0</text>
<line x1="229.3" y1="2465.8" x2="229.3" y2="2476.5" stroke="#000" stroke-width="2.8"/>
<line x1="382" y1="2465.8" x2="382" y2="2476.5" stroke="#000" stroke-width="2.8"/>
<text font-size="22.6" transform="translate(185.99 2496.8) scale(1 1.04)" font-weight="bold" stroke="#000" stroke-width="0.3" letter-spacing="0.64">HEK293</text>
<text font-size="22.6" transform="translate(348.28 2496.8) scale(1 1.04)" font-weight="bold" stroke="#000" stroke-width="0.3" letter-spacing="0.38">WiT49</text>
<rect x="175.45" y="2149.95" width="32.7" height="16.2" fill="#ffffff" stroke="#000" stroke-width="4.3"/>
<text font-size="25" transform="translate(226.9 2165.98) scale(1 1.04)">Control</text>
<rect x="175.45" y="2184.95" width="32.7" height="16.7" fill="#333333" stroke="#000" stroke-width="4.3"/>
<text font-size="25" transform="translate(226.9 2201.23) scale(1 1.04)">MUC-C</text>
<text font-size="30" x="477" y="2131.5" font-weight="bold" stroke="#000" stroke-width="0.3">J</text>
<text font-size="25" font-weight="bold" stroke="#000" stroke-width="0.3" text-anchor="middle" transform="translate(528.7 2311.8) rotate(-90) scale(1 1.04)">Relative luciferase activity</text>
<text font-size="25" font-weight="bold" stroke="#000" stroke-width="0.3" text-anchor="middle" transform="translate(561.3 2311.8) rotate(-90) scale(1 1.04)">of <tspan dx="1.6" font-weight="normal" stroke="none" font-size="24.5">β</tspan><tspan dx="3.2">-catenin promoter</tspan></text>
<path d="M643.7 2462.9V2261.5H681.7V2462.9" fill="#ffffff" stroke="#000" stroke-width="4" stroke-linejoin="miter"/>
<line x1="719.3" y1="2221.7" x2="719.3" y2="2267" stroke="#000" stroke-width="4.4"/>
<rect x="707.5" y="2219.4" width="23.6" height="4.6" fill="#000"/>
<path d="M699.9 2462.9V2265H738.7V2462.9" fill="#333333" stroke="#000" stroke-width="4" stroke-linejoin="miter"/>
<path d="M795.7 2462.9V2261.5H833.7V2462.9" fill="#ffffff" stroke="#000" stroke-width="4" stroke-linejoin="miter"/>
<line x1="871.3" y1="2268.3" x2="871.3" y2="2289.3" stroke="#000" stroke-width="4.4"/>
<rect x="859.5" y="2266" width="23.6" height="4.6" fill="#000"/>
<path d="M851.9 2462.9V2287.3H890.7V2462.9" fill="#333333" stroke="#000" stroke-width="4" stroke-linejoin="miter"/>
<line x1="615.3" y1="2159" x2="615.3" y2="2464.6" stroke="#000" stroke-width="3"/>
<line x1="605.1" y1="2462.9" x2="919.5" y2="2462.9" stroke="#000" stroke-width="3.4"/>
<line x1="605.1" y1="2160.4" x2="616.8" y2="2160.4" stroke="#000" stroke-width="2.8"/>
<text font-size="21.7" transform="translate(602.5 2168.16) scale(1 1.03)" font-weight="bold" stroke="#000" stroke-width="0.3" text-anchor="end">1.5</text>
<line x1="605.1" y1="2261.4" x2="616.8" y2="2261.4" stroke="#000" stroke-width="2.8"/>
<text font-size="21.7" transform="translate(602.5 2269.16) scale(1 1.03)" font-weight="bold" stroke="#000" stroke-width="0.3" text-anchor="end">1.0</text>
<line x1="605.1" y1="2362" x2="616.8" y2="2362" stroke="#000" stroke-width="2.8"/>
<text font-size="21.7" transform="translate(602.5 2369.76) scale(1 1.03)" font-weight="bold" stroke="#000" stroke-width="0.3" text-anchor="end">0.5</text>
<text font-size="21.7" transform="translate(602.5 2470.66) scale(1 1.03)" font-weight="bold" stroke="#000" stroke-width="0.3" text-anchor="end">0.0</text>
<line x1="690.8" y1="2462.9" x2="690.8" y2="2473.6" stroke="#000" stroke-width="2.8"/>
<line x1="843" y1="2462.9" x2="843" y2="2473.6" stroke="#000" stroke-width="2.8"/>
<text font-size="22.6" transform="translate(647.29 2494.5) scale(1 1.04)" font-weight="bold" stroke="#000" stroke-width="0.3" letter-spacing="0.62">HEK293</text>
<text font-size="22.6" transform="translate(809.98 2494.5) scale(1 1.04)" font-weight="bold" stroke="#000" stroke-width="0.3" letter-spacing="0.33">WiT49</text>
<rect x="635.85" y="2147.35" width="33.4" height="16.4" fill="#ffffff" stroke="#000" stroke-width="4.3"/>
<text font-size="25" transform="translate(687.6 2163.48) scale(1 1.04)">Control</text>
<rect x="635.85" y="2182.65" width="33.4" height="16.7" fill="#333333" stroke="#000" stroke-width="4.3"/>
<text font-size="25" transform="translate(687.6 2198.93) scale(1 1.04)">MUC-C</text>
<text font-size="30" x="931.8" y="2131.5" font-weight="bold" stroke="#000" stroke-width="0.3">K</text>
<text font-size="25" font-weight="bold" stroke="#000" stroke-width="0.3" text-anchor="middle" transform="translate(993 2309.4) rotate(-90) scale(1 1.04)">Relative luciferase activity</text>
<text font-size="25" font-weight="bold" stroke="#000" stroke-width="0.3" text-anchor="middle" transform="translate(1026.3 2309.4) rotate(-90) scale(1 1.04)">of <tspan dx="1.6" font-weight="normal" stroke="none" font-size="24.5">β</tspan><tspan dx="3.2">-catenin 3'UTR</tspan></text>
<path d="M1107.2 2461V2259.7H1145.2V2461" fill="#ffffff" stroke="#000" stroke-width="4" stroke-linejoin="miter"/>
<line x1="1182.8" y1="2275.9" x2="1182.8" y2="2286.9" stroke="#000" stroke-width="4.4"/>
<rect x="1171" y="2273.6" width="23.6" height="4.6" fill="#000"/>
<path d="M1163.4 2461V2284.9H1202.2V2461" fill="#333333" stroke="#000" stroke-width="4" stroke-linejoin="miter"/>
<path d="M1258.5 2461V2259.7H1296.5V2461" fill="#ffffff" stroke="#000" stroke-width="4" stroke-linejoin="miter"/>
<line x1="1334.1" y1="2241.7" x2="1334.1" y2="2271" stroke="#000" stroke-width="4.4"/>
<rect x="1322.3" y="2239.4" width="23.6" height="4.6" fill="#000"/>
<path d="M1314.7 2461V2269H1353.5V2461" fill="#333333" stroke="#000" stroke-width="4" stroke-linejoin="miter"/>
<line x1="1079" y1="2157.3" x2="1079" y2="2462.7" stroke="#000" stroke-width="3"/>
<line x1="1068.8" y1="2461" x2="1382.5" y2="2461" stroke="#000" stroke-width="3.4"/>
<line x1="1068.8" y1="2158.7" x2="1080.5" y2="2158.7" stroke="#000" stroke-width="2.8"/>
<text font-size="21.7" transform="translate(1066.2 2166.46) scale(1 1.03)" font-weight="bold" stroke="#000" stroke-width="0.3" text-anchor="end">1.5</text>
<line x1="1068.8" y1="2259.6" x2="1080.5" y2="2259.6" stroke="#000" stroke-width="2.8"/>
<text font-size="21.7" transform="translate(1066.2 2267.36) scale(1 1.03)" font-weight="bold" stroke="#000" stroke-width="0.3" text-anchor="end">1.0</text>
<line x1="1068.8" y1="2360.4" x2="1080.5" y2="2360.4" stroke="#000" stroke-width="2.8"/>
<text font-size="21.7" transform="translate(1066.2 2368.16) scale(1 1.03)" font-weight="bold" stroke="#000" stroke-width="0.3" text-anchor="end">0.5</text>
<text font-size="21.7" transform="translate(1066.2 2468.76) scale(1 1.03)" font-weight="bold" stroke="#000" stroke-width="0.3" text-anchor="end">0.0</text>
<line x1="1153.3" y1="2461" x2="1153.3" y2="2471.7" stroke="#000" stroke-width="2.8"/>
<line x1="1305" y1="2461" x2="1305" y2="2471.7" stroke="#000" stroke-width="2.8"/>
<text font-size="22.6" transform="translate(1110.99 2492) scale(1 1.04)" font-weight="bold" stroke="#000" stroke-width="0.3" letter-spacing="0.38">HEK293</text>
<text font-size="22.6" transform="translate(1272.48 2492) scale(1 1.04)" font-weight="bold" stroke="#000" stroke-width="0.3" letter-spacing="0.33">WiT49</text>
<rect x="1099.85" y="2145.05" width="32" height="16" fill="#ffffff" stroke="#000" stroke-width="4.3"/>
<text font-size="25" transform="translate(1150.3 2160.98) scale(1 1.04)">Control</text>
<rect x="1099.85" y="2180.65" width="32" height="16.4" fill="#333333" stroke="#000" stroke-width="4.3"/>
<text font-size="25" transform="translate(1150.3 2196.78) scale(1 1.04)">MUC-C</text>
</svg>
</body></html>
